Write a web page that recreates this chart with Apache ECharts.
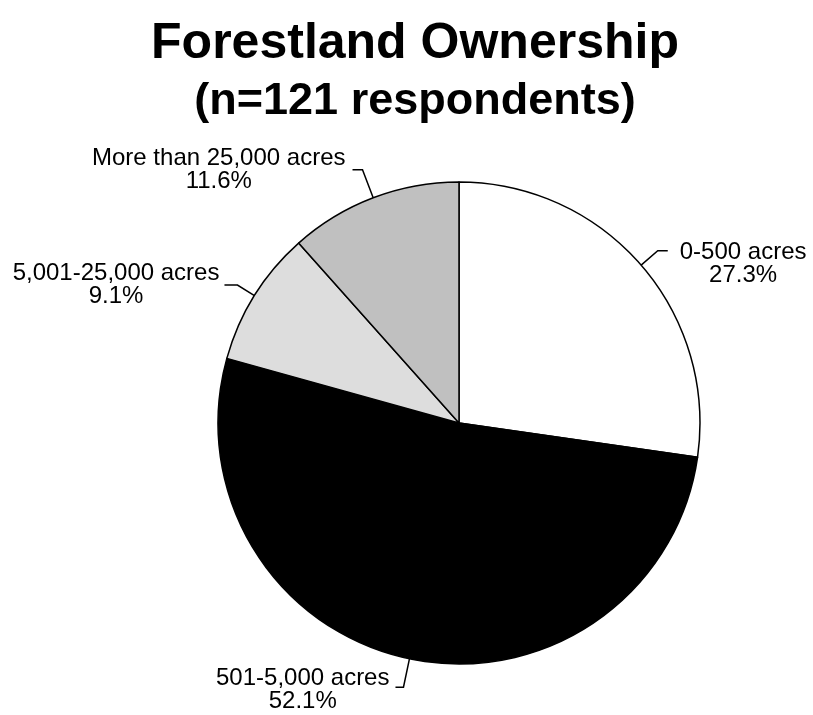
<!DOCTYPE html>
<html>
<head>
<meta charset="utf-8">
<script src="https://cdn.jsdelivr.net/npm/echarts@6/dist/echarts.min.js"></script>
<style>
  html, body { margin: 0; padding: 0; background: #fff; }
  #chart { width: 813px; height: 715px; }
</style>
</head>
<body>
<div id="chart"></div>
<script>
// Forestland ownership size classes and their share of respondents (%)
const categories = ['0-500 acres', '501-5,000 acres', '5,001-25,000 acres', 'More than 25,000 acres'];
const shares = [27.3, 52.1, 9.1, 11.6];
const sliceColors = ['#ffffff', '#000000', '#dddddd', '#c0c0c0'];

// Leader line tuning per slice: [first segment, horizontal segment, gap to text, top padding]
const leader = [
  [22, 10, 12, 26],
  [29, 8, 6, 6],
  [20, 13, 5, 0],
  [30, 10, 7, 0]
];

const FONT = '"Liberation Sans", Arial, sans-serif';

const chart = echarts.init(document.getElementById('chart'), null, { renderer: 'canvas' });

const data = categories.map((name, i) => ({
  name: name,
  value: shares[i],
  itemStyle: { color: sliceColors[i] },
  labelLine: { length: leader[i][0], length2: leader[i][1] },
  label: {
    distanceToLabelLine: leader[i][2],
    padding: [leader[i][3], 0, 0, 0]
  }
}));

chart.setOption({
  backgroundColor: '#ffffff',
  animation: false,
  title: [
    {
      text: 'Forestland Ownership',
      left: 410,
      top: 14,
      textAlign: 'center',
      textStyle: { fontFamily: FONT, fontWeight: 'bold', fontSize: 50, color: '#000' }
    },
    {
      text: '(n=121 respondents)',
      left: 410,
      top: 74,
      textAlign: 'center',
      textStyle: { fontFamily: FONT, fontWeight: 'bold', fontSize: 45, color: '#000' }
    }
  ],
  series: [
    {
      type: 'pie',
      center: [459, 423],
      radius: 241,
      startAngle: 90,
      clockwise: true,
      avoidLabelOverlap: false,
      itemStyle: { borderColor: '#000', borderWidth: 1.5 },
      emphasis: { disabled: true },
      label: {
        show: true,
        position: 'outside',
        color: '#000',
        fontFamily: FONT,
        fontSize: 24,
        lineHeight: 23,
        formatter: p => '{t|' + p.name + '}\n{t|' + p.value + '%}',
        rich: {
          t: { fontFamily: FONT, fontSize: 24, lineHeight: 23, color: '#000', align: 'center' }
        }
      },
      labelLine: {
        show: true,
        smooth: false,
        lineStyle: { color: '#000', width: 1.5 }
      },
      data: data
    }
  ]
});
</script>
</body>
</html>
